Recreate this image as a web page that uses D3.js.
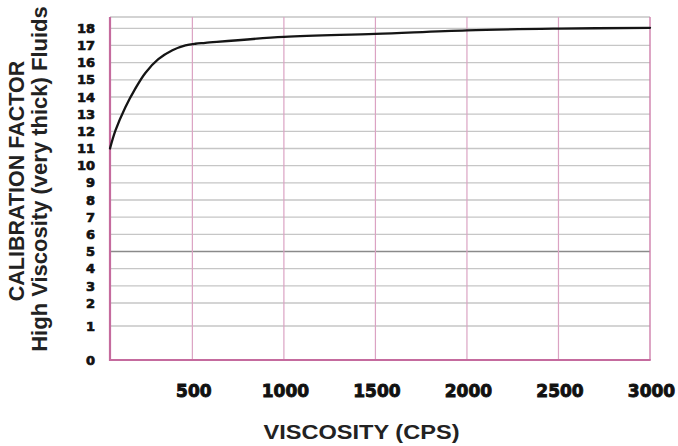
<!DOCTYPE html>
<html>
<head>
<meta charset="utf-8">
<script src="https://cdn.jsdelivr.net/npm/d3@7"></script>
<style>
  html, body { margin: 0; padding: 0; background: #fff; }
  svg { display: block; }
</style>
</head>
<body>
<svg id="chart" width="678" height="446"></svg>
<script>
// ---- data ----
const viscosity = [50, 80, 134, 189, 243, 314, 391, 462, 516, 571, 1000, 1500, 2000, 2500, 3000];
const factor    = [11.0, 12.05, 13.4, 14.5, 15.4, 16.2, 16.72, 17.0, 17.1, 17.15, 17.5, 17.67, 17.88, 17.98, 18.03];
const xTicks = [500, 1000, 1500, 2000, 2500, 3000];
const yTicks = [0, 1, 2, 3, 4, 5, 6, 7, 8, 9, 10, 11, 12, 13, 14, 15, 16, 17, 18];
const xTitle = "VISCOSITY (CPS)";
const yTitle1 = "CALIBRATION FACTOR";
const yTitle2 = "High Viscosity (very thick) Fluids";

(function () {
const svg = d3.select("#chart");
const pLeft = 110, pRight = 650, pTop = 17, pBottom = 360;

const x = d3.scaleLinear().domain([50, 3000]).range([pLeft, pRight]);
// the printed chart uses a compressed scale below 2
const y = d3.scaleLinear().domain([0, 1, 2, 18]).range([pBottom, 326, 303, 28.3]);

// top border (gray)
svg.append("line").attr("x1", pLeft).attr("x2", pRight).attr("y1", pTop).attr("y2", pTop)
  .attr("stroke", "#c4c4c4").attr("stroke-width", 1.3);

// horizontal gridlines
svg.append("g").selectAll("line").data(yTicks.filter(d => d > 0)).join("line")
  .attr("x1", pLeft).attr("x2", pRight)
  .attr("y1", d => y(d)).attr("y2", d => y(d))
  .attr("stroke", d => d === 5 ? "#8a8a8a" : "#c6c6c6")
  .attr("stroke-width", 1.3);

// vertical pink lines
svg.append("g").selectAll("line").data(xTicks).join("line")
  .attr("x1", d => x(d)).attr("x2", d => x(d))
  .attr("y1", pTop).attr("y2", pBottom)
  .attr("stroke", d => d === 3000 ? "#cf7fab" : "#dba3c3")
  .attr("stroke-width", d => d === 3000 ? 1.4 : 1.2);

// left & bottom borders
svg.append("line").attr("x1", pLeft).attr("x2", pLeft).attr("y1", pTop).attr("y2", pBottom + 1)
  .attr("stroke", "#c56b9e").attr("stroke-width", 2.2);
svg.append("line").attr("x1", pLeft - 1).attr("x2", pRight + 0.7).attr("y1", pBottom).attr("y2", pBottom)
  .attr("stroke", "#c56b9e").attr("stroke-width", 2);

// curve
const pts = viscosity.map((v, i) => [v, factor[i]]);
svg.append("path").datum(pts)
  .attr("d", d3.line().x(d => x(d[0])).y(d => y(d[1])).curve(d3.curveCatmullRom.alpha(0.5)))
  .attr("fill", "none").attr("stroke", "#151515").attr("stroke-width", 2.3)
  .attr("stroke-linecap", "round");

// y tick labels
svg.append("g").selectAll("text").data(yTicks).join("text")
  .attr("x", 95).attr("y", d => y(d)).attr("dy", "0.36em")
  .attr("text-anchor", "end")
  .attr("font-family", "DejaVu Sans").attr("font-weight", "bold").attr("font-size", 13)
  .attr("fill", "#111").attr("stroke", "#111").attr("stroke-width", 0.7)
  .text(d => d);

// x tick labels
svg.append("g").selectAll("text").data(xTicks).join("text")
  .attr("x", d => x(d) + 1.5).attr("y", 397)
  .attr("text-anchor", "middle")
  .attr("font-family", "DejaVu Sans").attr("font-weight", "bold").attr("font-size", 17)
  .attr("fill", "#111").attr("stroke", "#111").attr("stroke-width", 0.9)
  .text(d => d);

// x title
svg.append("text")
  .attr("x", 361.5).attr("y", 439)
  .attr("text-anchor", "middle")
  .attr("font-family", "Liberation Sans, Arial, sans-serif").attr("font-weight", "bold").attr("font-size", 21)
  .attr("textLength", 196).attr("lengthAdjust", "spacingAndGlyphs")
  .attr("fill", "#222")
  .text(xTitle);

// y titles
svg.append("text")
  .attr("transform", "translate(24,181) rotate(-90)")
  .attr("text-anchor", "middle")
  .attr("font-family", "Liberation Sans, Arial, sans-serif").attr("font-weight", "bold").attr("font-size", 21.5)
  .attr("fill", "#222")
  .text(yTitle1);
svg.append("text")
  .attr("transform", "translate(47,179) rotate(-90)")
  .attr("text-anchor", "middle")
  .attr("font-family", "Liberation Sans, Arial, sans-serif").attr("font-weight", "bold").attr("font-size", 22)
  .attr("fill", "#222")
  .text(yTitle2);
})();
</script>
</body>
</html>
